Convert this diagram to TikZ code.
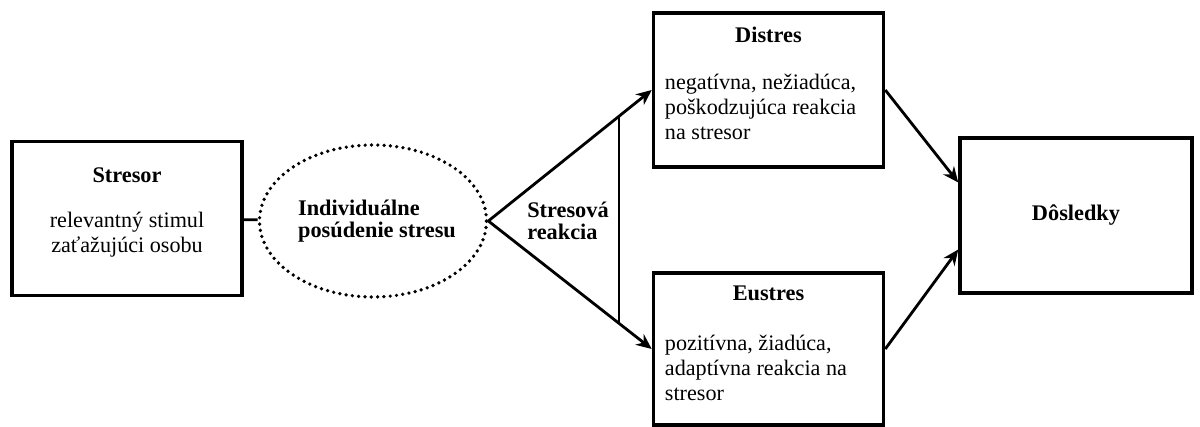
\documentclass[tikz,border=0pt]{standalone}
\usepackage{fontspec}
\setmainfont{Liberation Serif}
\usetikzlibrary{positioning,arrows.meta,shapes.geometric,calc}

\begin{document}
\begin{tikzpicture}[x=0.2mm,y=-0.2mm,
  box/.style={draw,line width=2pt,minimum width=46mm,minimum height=30.8mm},
  appraisal/.style={ellipse,draw,line width=2.1pt,dash pattern=on 0pt off 3.6pt,line cap=round,minimum width=45.4mm,minimum height=30.4mm},
  head/.style={font=\fontsize{12.7}{12.8}\selectfont\bfseries,align=left},
  body/.style={align=left},
  arr/.style={-{Stealth[length=3.1mm,width=2.7mm]},line width=1.6pt},
  link/.style={line width=1.6pt},
  font=\fontsize{12.6}{14.2}\selectfont]
  \useasboundingbox (0,0) rectangle (1200,427);
  % stressor and appraisal
  \node[box] (stresor) at (127,218.5) {};
  \node[head] (stresorhead) at ($(stresor.north)+(0,35)$) {Stresor};
  \node[body,align=center] (stresorbody) at ($(stresor.north)+(0,95)$) {relevantný stimul\\zaťažujúci osobu};
  \node[appraisal] (appraisal) at (373,221) {};
  \node[head] (appraisaltext) at (377,221) {Individuálne\\posúdenie stresu};
  \node[head] (reakcia) at (568,221) {Stresová\\reakcia};
  % outcomes
  \node[box] (distres) at (768.5,90) {};
  \node[head] (distreshead) at ($(distres.north)+(0,24)$) {Distres};
  \node[body,anchor=west] (distresbody) at ($(distres.west)+(7,17)$) {negatívna, nežiadúca,\\poškodzujúca reakcia\\na stresor};
  \node[box,minimum height=30.4mm] (eustres) at (768.5,349) {};
  \node[head] (eustreshead) at ($(eustres.north)+(0,22)$) {Eustres};
  \node[body,anchor=west] (eustresbody) at ($(eustres.west)+(7,19)$) {pozitívna, žiadúca,\\adaptívna reakcia na\\stresor};
  \node[box,minimum width=46.4mm,minimum height=31mm,font=\fontsize{12.7}{12.8}\selectfont\bfseries] (dosledky) at (1076,215.5) {Dôsledky};
  % arrows
  \coordinate (fork) at (appraisal.east);
  \draw[link] (stresor) -- (appraisal);
  \draw[arr] (fork) -- (distres.west);
  \draw[arr] (fork) -- (eustres.west);
  \draw[link] ($(fork)!0.8!(distres.west)$) -- ($(fork)!0.8!(eustres.west)$);
  \draw[arr] (distres.east) -- ($(dosledky.west)+(0,-33)$);
  \draw[arr] (eustres.east) -- ($(dosledky.west)+(0,34)$);
\end{tikzpicture}
\end{document}
